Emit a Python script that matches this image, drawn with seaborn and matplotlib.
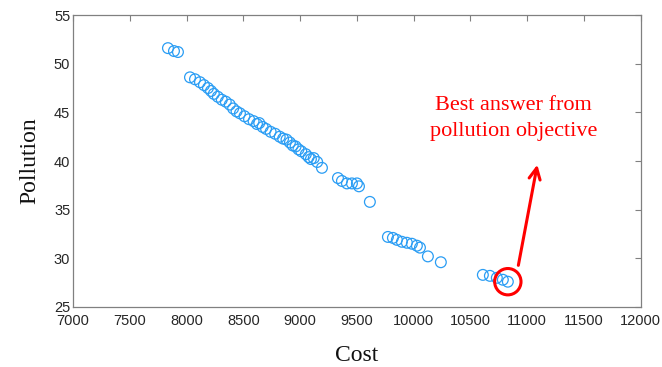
import matplotlib
matplotlib.use("Agg")
import matplotlib.pyplot as plt
import seaborn as sns
import pandas as pd

# Pareto front: cost vs pollution
cost = [7836, 7889, 7924,
        8030, 8074, 8118, 8153, 8188, 8215, 8240, 8275, 8310, 8345, 8380,
        8410, 8440, 8470, 8510, 8550, 8590, 8620, 8640, 8670, 8700, 8740,
        8780, 8820, 8850, 8880, 8910, 8935, 8960, 8985, 9010, 9050, 9075,
        9095, 9120, 9150, 9192,
        9333, 9368, 9412, 9456, 9500, 9518, 9614,
        9773, 9817, 9852, 9896, 9940, 9984, 10028, 10055, 10125, 10239,
        10609, 10671, 10732, 10785, 10829]
pollution = [51.6, 51.3, 51.2,
             48.6, 48.4, 48.1, 47.8, 47.5, 47.2, 46.9, 46.6, 46.3, 46.1, 45.8,
             45.4, 45.1, 44.9, 44.6, 44.3, 44.1, 43.8, 43.9, 43.5, 43.3, 43.0,
             42.8, 42.5, 42.3, 42.2, 41.9, 41.6, 41.5, 41.2, 41.0, 40.7, 40.4,
             40.2, 40.3, 39.9, 39.3,
             38.25, 37.95, 37.7, 37.7, 37.7, 37.4, 35.8,
             32.2, 32.1, 31.9, 31.7, 31.6, 31.5, 31.3, 31.1, 30.2, 29.6,
             28.3, 28.2, 28.0, 27.8, 27.6]

best_cost, best_pollution = 10829, 27.6
arrow_start = (10917, 29.0)
arrow_end = (11093, 39.9)
note_lines = ["Best answer from", "pollution objective"]
xticks = [7000, 7500, 8000, 8500, 9000, 9500, 10000, 10500, 11000, 11500, 12000]
yticks = [25, 30, 35, 40, 45, 50, 55]

df = pd.DataFrame({"Cost": cost, "Pollution": pollution})

sns.set_theme(style="white")
plt.rcParams["font.family"] = ["Liberation Sans", "DejaVu Sans"]

fig = plt.figure(figsize=(6.62, 3.67), dpi=100)
ax = fig.add_axes([0.1103, 0.1635, 0.8577, 0.7955])

sns.scatterplot(data=df, x="Cost", y="Pollution", ax=ax, s=60,
                marker="o", facecolors="none", edgecolor="#2a9df4",
                linewidth=0.9)

ax.set_xlim(7000, 12000)
ax.set_ylim(25, 55)
ax.set_xticks(xticks)
ax.set_yticks(yticks)
ax.tick_params(direction="in", top=True, right=True, length=4, width=0.8,
               color="#808080", labelsize=10.5, labelcolor="#262626")
ax.tick_params(axis="x", pad=5)
ax.tick_params(axis="y", pad=2)
for sp in ax.spines.values():
    sp.set_color("#808080")
    sp.set_linewidth(0.9)

ax.set_xlabel("Cost", family="Liberation Serif", fontsize=17, color="#111111",
              labelpad=12)
ax.set_ylabel("Pollution", family="Liberation Serif", fontsize=17,
              color="#111111", labelpad=10)

# highlight the best pollution solution
ax.scatter([best_cost], [best_pollution], s=360, facecolors="none",
           edgecolors="#ff0000", linewidths=2.2, zorder=4)
ax.annotate("", xy=arrow_end, xytext=arrow_start,
            arrowprops=dict(arrowstyle="->", color="#ff0000", lw=2.2,
                            mutation_scale=20), zorder=4)
ax.text(10882, 44.4, "\n".join(note_lines), ha="center", va="center",
        family="Liberation Serif", fontsize=16, color="#ff0000",
        linespacing=1.5)

fig.savefig("out.png", dpi=100)
